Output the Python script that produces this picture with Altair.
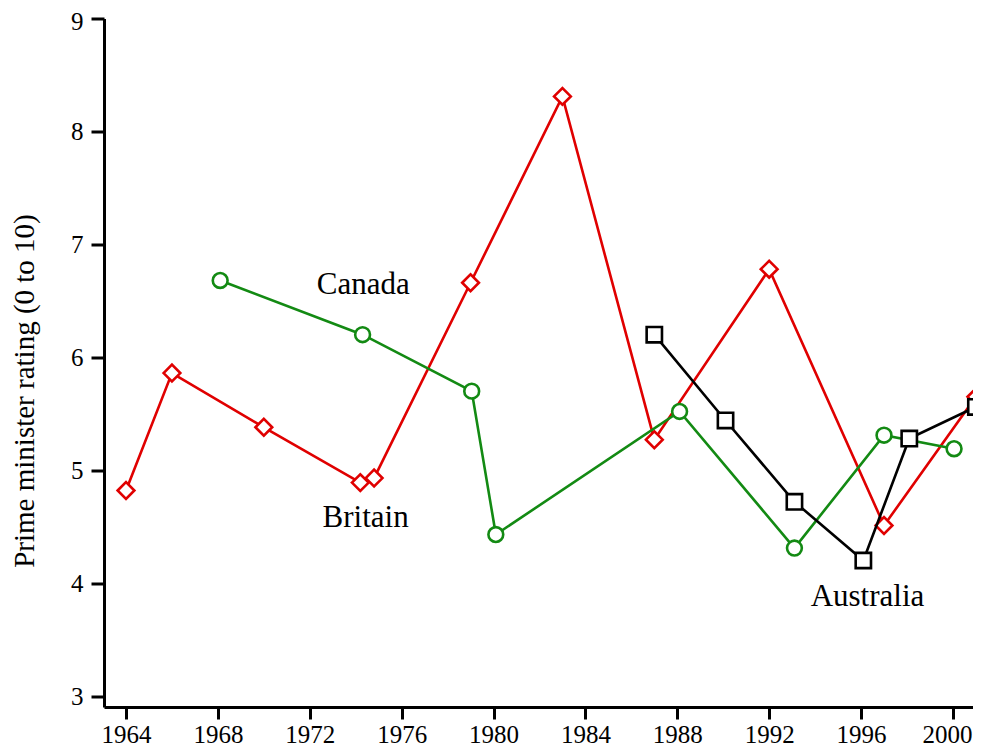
import altair as alt
import pandas as pd

# ---- data ----
britain_years = [1964.0, 1966.0, 1970.0, 1974.2, 1974.8, 1979.0, 1983.0, 1987.0, 1992.0, 1997.0, 2001.0]
britain_rating = [4.82, 5.86, 5.38, 4.89, 4.93, 6.66, 8.31, 5.27, 6.78, 4.51, 5.65]

canada_years = [1968.1, 1974.3, 1979.05, 1980.1, 1988.1, 1993.1, 1997.0, 2000.05]
canada_rating = [6.68, 6.20, 5.70, 4.43, 5.52, 4.31, 5.31, 5.19]

australia_years = [1987.0, 1990.1, 1993.1, 1996.1, 1998.1, 2001.0]
australia_rating = [6.20, 5.44, 4.72, 4.20, 5.28, 5.56]

label_text = ["Canada", "Britain", "Australia"]
label_x = [1974.33, 1974.43, 1996.28]
label_y = [6.56, 4.50, 3.80]

x_ticks = [1964, 1968, 1972, 1976, 1980, 1984, 1988, 1992, 1996, 2000]
y_ticks = [3, 4, 5, 6, 7, 8, 9]

FONT = "Liberation Serif"

xscale = alt.Scale(domain=[1963.042, 2000.874], nice=False, zero=False)
yscale = alt.Scale(domain=[2.9026, 9], nice=False, zero=False)

xaxis = alt.Axis(values=x_ticks, format="d", title=None, tickSize=12, labelPadding=3,
                 labelFlush=False, labelOverlap=False,
                 labelOffset={"condition": {"test": "datum.value == 2000", "value": -6},
                              "value": 0})
yaxis = alt.Axis(values=y_ticks, format="d", title="Prime minister rating (0 to 10)",
                 tickSize=13, labelPadding=8, titleX=-71, titleY=372,
                 titleBaseline="alphabetic", titleAlign="center", labelOverlap=False,
                 labelOffset={"condition": {"test": "datum.value == 9", "value": 3},
                              "value": 0})

X = alt.X("year:Q", scale=xscale, axis=xaxis)
Y = alt.Y("rating:Q", scale=yscale, axis=yaxis)


def series(years, ratings, color, shape, size):
    df = pd.DataFrame({"year": years, "rating": ratings})
    line = alt.Chart(df).mark_line(color=color, strokeWidth=2.6, clip=False).encode(x=X, y=Y)
    pts = alt.Chart(df).mark_point(shape=shape, size=size, filled=False, fill="white",
                                   fillOpacity=1, stroke=color, strokeWidth=2.6,
                                   opacity=1, clip=False).encode(x=X, y=Y)
    return [line, pts]


layers = []
layers += series(britain_years, britain_rating, "#E00000", "diamond", 280)
layers += series(canada_years, canada_rating, "#138A13", "circle", 220)
layers += series(australia_years, australia_rating, "#000000", "square", 235)

labels_df = pd.DataFrame({"text": label_text, "year": label_x, "rating": label_y})
labels = alt.Chart(labels_df).mark_text(font=FONT, fontSize=31, align="center",
                                        baseline="alphabetic", color="black").encode(
    x=X, y=Y, text="text:N")
layers.append(labels)

chart = alt.layer(*layers).properties(
    width=869, height=688.5,
    autosize=alt.AutoSizeParams(type="none"),
    padding={"left": 96, "top": 10.5, "right": 0, "bottom": 39},
    background="white",
).configure_view(stroke=None).configure_axis(
    grid=False, domainColor="black", domainWidth=3, tickColor="black", tickWidth=3,
    labelFont=FONT, labelFontSize=25, labelColor="black",
    titleFont=FONT, titleFontSize=29, titleFontWeight="normal", titleColor="black",
)

chart.save("out.html", embed_options={"renderer": "svg", "actions": False})
